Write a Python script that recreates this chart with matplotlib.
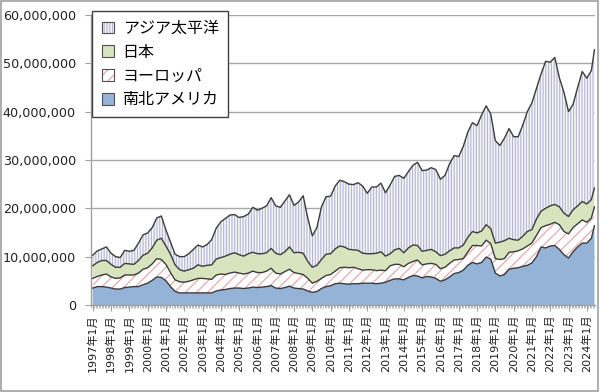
import numpy as np
import matplotlib.pyplot as plt
from matplotlib.patches import Patch, Rectangle
from matplotlib.ticker import FuncFormatter, MultipleLocator

plt.rcParams['font.family'] = ['DejaVu Sans', 'Noto Sans CJK JP']
plt.rcParams['hatch.linewidth'] = 0.8

# month index since 1997-01 (quarterly readings, last point = 2024-06)
months = list(range(0, 328, 3)) + [329]
years = list(range(1997, 2025))
tick_labels = [f'{y}年1月' for y in years]

# values, in millions (axis unit)
americas = [
    3.5, 3.8, 3.8, 3.7,   3.5, 3.3, 3.3, 3.6,   3.7, 3.8, 3.8, 4.2,   4.5, 5.1, 5.8, 5.7,
    5.0, 3.8, 2.8, 2.5,   2.5, 2.5, 2.5, 2.5,   2.5, 2.5, 2.5, 2.9,   3.1, 3.2, 3.4, 3.5,
    3.5, 3.4, 3.5, 3.7,   3.6, 3.7, 3.8, 4.0,   3.5, 3.4, 3.6, 3.9,   3.5, 3.4, 3.3, 2.9,
    2.6, 2.8, 3.4, 3.8,   4.0, 4.4, 4.5, 4.4,   4.3, 4.4, 4.4, 4.5,   4.5, 4.5, 4.4, 4.5,
    4.7, 5.1, 5.4, 5.4,   5.2, 5.7, 6.1, 6.0,   5.6, 5.9, 5.8, 5.5,   4.9, 5.2, 5.8, 6.5,
    6.7, 7.2, 8.2, 8.8,   8.5, 8.8, 9.9, 9.5,   6.6, 6.0, 6.3, 7.4,   7.6, 7.7, 8.0, 8.2,
    8.7, 10.0, 12.0, 11.8,   12.2, 12.3, 11.5, 10.4,   9.7, 11.0, 12.0, 12.8,
    12.8, 13.8, 16.4,
]
europe = [
    2.0, 2.1, 2.4, 2.7,   2.3, 2.2, 2.3, 2.6,   2.5, 2.4, 2.8, 3.2,   3.2, 3.4, 3.8, 3.7,
    3.4, 2.9, 2.4, 2.3,   2.2, 2.4, 2.7, 3.0,   3.0, 2.9, 2.8, 3.3,   3.3, 3.1, 3.2, 3.3,
    3.1, 3.0, 3.1, 3.3,   3.1, 3.0, 3.2, 3.6,   3.1, 3.0, 3.3, 3.5,   3.2, 3.1, 3.0, 2.6,
    1.9, 2.1, 2.1, 2.3,   2.3, 2.6, 3.2, 3.4,   3.4, 3.4, 3.1, 2.7,   2.8, 2.8, 2.7, 2.7,
    2.4, 3.0, 3.0, 3.0,   2.7, 2.9, 2.9, 3.3,   2.7, 2.6, 2.8, 2.9,   2.6, 2.6, 2.8, 2.8,
    2.7, 2.4, 2.8, 3.5,   3.8, 3.4, 3.5, 3.2,   3.0, 3.4, 3.3, 3.5,   3.4, 3.5, 3.6, 4.0,
    4.1, 4.4, 4.0, 4.6,   4.5, 4.8, 5.1, 4.8,   5.0, 5.0, 4.8, 4.8,
    4.3, 4.2, 3.9,
]
japan = [
    2.6, 2.9, 3.0, 2.8,   2.6, 2.3, 2.2, 2.4,   2.3, 2.2, 2.6, 2.9,   3.0, 3.3, 3.8, 4.4,
    3.8, 3.8, 3.1, 2.5,   2.3, 2.4, 2.4, 2.8,   2.5, 2.8, 3.0, 3.3,   3.4, 3.8, 3.9, 4.0,
    3.8, 3.7, 4.0, 3.9,   3.9, 3.9, 3.8, 4.1,   4.1, 4.0, 4.1, 4.6,   4.1, 4.4, 4.4, 3.5,
    3.3, 3.3, 3.9, 4.4,   4.3, 4.6, 4.5, 4.2,   3.8, 3.6, 3.8, 3.5,   3.3, 3.3, 3.6, 3.8,
    3.0, 2.5, 3.0, 3.3,   2.9, 3.2, 3.4, 3.0,   2.8, 2.8, 2.9, 2.6,   2.7, 2.7, 2.6, 2.5,
    2.4, 2.8, 3.0, 2.9,   2.6, 3.1, 3.2, 3.1,   3.2, 3.6, 3.7, 2.9,   2.5, 2.2, 2.6, 3.0,
    2.8, 3.4, 3.4, 3.6,   3.8, 3.7, 3.7, 3.8,   3.6, 3.7, 3.7, 3.8,
    3.8, 3.8, 3.9,
]
asia_pacific = [
    2.2, 2.4, 2.4, 2.8,   2.3, 2.2, 2.0, 2.7,   2.6, 2.9, 3.6, 4.2,   4.2, 4.2, 4.6, 4.6,
    3.3, 2.5, 2.2, 2.7,   3.0, 3.3, 3.9, 4.1,   4.0, 4.3, 5.2, 6.4,   7.4, 7.8, 8.1, 7.9,
    7.7, 8.2, 8.2, 9.3,   9.0, 9.4, 9.7, 10.5,   9.8, 9.8, 10.5, 10.8,   9.8, 10.4, 11.9, 9.0,
    6.5, 7.8, 10.9, 11.9,   11.9, 13.0, 13.6, 13.5,   13.5, 13.5, 14.0, 13.9,   12.5, 13.8, 13.7, 14.2,
    13.1, 14.2, 15.2, 15.1,   15.4, 15.8, 16.5, 17.2,   16.7, 16.6, 16.9, 17.0,   15.8, 16.3, 18.0, 19.1,
    18.9, 20.4, 21.8, 22.5,   22.2, 24.0, 24.6, 23.7,   21.2, 20.0, 21.2, 22.7,   21.3, 21.4, 23.0, 24.8,
    26.2, 27.0, 28.4, 30.4,   29.7, 30.4, 26.7, 25.0,   21.7, 21.8, 24.5, 26.9,
    26.0, 26.7, 28.6,
]

labels = ['アジア太平洋', '日本', 'ヨーロッパ', '南北アメリカ']
fills = ['#F4F4F9', '#D7E4BD', 'white', '#95B3D7']
hatches = ['||||||', None, '///', None]
hatch_colors = ['#B6B6D0', '#D7E4BD', '#E3A3A3', '#95B3D7']
line_color = '#3C3C3C'

x = np.array(months)
scale = 1e6
y1 = np.array(americas) * scale
y2 = y1 + np.array(europe) * scale
y3 = y2 + np.array(japan) * scale
y4 = y3 + np.array(asia_pacific) * scale

fig = plt.figure(figsize=(6, 3.92), dpi=100)
ax = fig.add_axes([0.152, 0.222, 0.840, 0.740])

ax.fill_between(x, 0, y1, facecolor=fills[3], edgecolor='none', zorder=2)
ax.fill_between(x, y1, y2, facecolor=fills[2], hatch=hatches[2],
                edgecolor=hatch_colors[2], linewidth=0, zorder=2)
ax.fill_between(x, y2, y3, facecolor=fills[1], edgecolor='none', zorder=2)
ax.fill_between(x, y3, y4, facecolor=fills[0], hatch=hatches[0],
                edgecolor=hatch_colors[0], linewidth=0, zorder=2)
for yy in (y1, y2, y3, y4):
    ax.plot(x, yy, color=line_color, lw=1.0, zorder=3)

# axes styling
ax.set_xlim(-1, 329.5)
ax.set_ylim(0, 60e6)
ax.set_yticks(np.arange(0, 60e6 + 1, 10e6))
ax.yaxis.set_major_formatter(FuncFormatter(lambda v, p: f'{int(v):,}'))
ax.grid(axis='y', color='#A8A8A8', lw=1.0, zorder=0)
ax.set_axisbelow(True)

ax.set_xticks([12 * i for i in range(len(years))])
ax.set_xticklabels(tick_labels, rotation=90, fontsize=8)
ax.xaxis.set_minor_locator(MultipleLocator(1))

for side in ('top', 'right'):
    ax.spines[side].set_visible(False)
for side in ('left', 'bottom'):
    ax.spines[side].set_color('#A0A0A0')
    ax.spines[side].set_linewidth(1.0)

ax.tick_params(axis='y', length=4, color='#A0A0A0', labelsize=9.2, pad=7, labelcolor='#222222')
ax.tick_params(axis='x', which='major', length=4, color='#A0A0A0', pad=3, labelcolor='#222222')
ax.tick_params(axis='x', which='minor', length=2.5, color='#B0B0B0', width=0.6)

# legend
handles = []
for i in range(4):
    face = Patch(facecolor=fills[i], hatch=hatches[i], edgecolor=hatch_colors[i], linewidth=0)
    border = Patch(facecolor='none', edgecolor='#505050', linewidth=0.8)
    handles.append((face, border))
leg = ax.legend(handles, labels, loc='upper left', bbox_to_anchor=(0.002, 1.012),
                fontsize=11.5, frameon=True, fancybox=False, edgecolor='#404040',
                framealpha=1, handlelength=0.75, handleheight=0.75, handletextpad=0.55,
                labelspacing=0.55, borderpad=0.6, borderaxespad=0)
leg.get_frame().set_linewidth(1.0)

# chart border
fig.patches.append(Rectangle((0.002, 0.003), 0.994, 0.994, transform=fig.transFigure,
                             fill=False, edgecolor='#A0A0A0', lw=1.2))

fig.savefig('out.png', dpi=100)
